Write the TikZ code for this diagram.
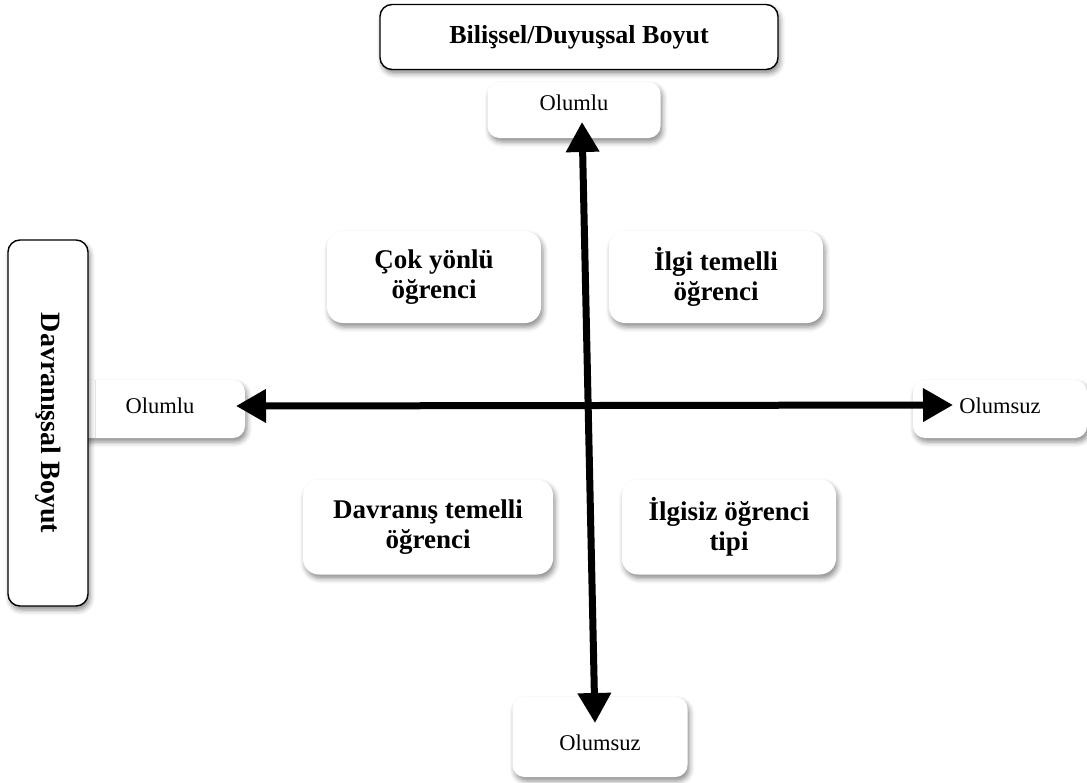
\documentclass[tikz,border=0pt]{standalone}
\usepackage{fontspec}
\setmainfont{Liberation Serif}
\usetikzlibrary{arrows.meta,shadows.blur}

\tikzset{
    soft/.style={blur shadow={shadow xshift=2pt, shadow yshift=-4pt, shadow blur radius=5pt, shadow opacity=45}},
    title/.style={draw, line width=1.4pt, rounded corners=12pt, fill=white, soft, inner sep=0pt},
    quad/.style={fill=white, rounded corners=16pt, soft, inner sep=0pt, align=center,
        minimum width=214pt, minimum height=92pt, font=\fontsize{27}{30}\selectfont\bfseries},
    pole/.style={fill=white, rounded corners=12pt, soft, inner sep=0pt, font=\fontsize{22.5}{24}\selectfont},
    axis/.style={line width=7pt, {Triangle[length=30pt,width=32pt]}-{Triangle[length=30pt,width=32pt]}}
}

\begin{document}
\begin{tikzpicture}[x=1pt, y=-1pt]
    \useasboundingbox (0,0) rectangle (1087,782);

    % poles of the two axes
    \node[pole, minimum width=173pt, minimum height=56pt, text height=12pt, text depth=12pt] at (574,110) (topPos) {Olumlu};
    \node[pole, minimum width=175pt, minimum height=80pt, text height=30pt, text depth=4pt] at (600,737) (botNeg) {Olumsuz};
    \node[pole, minimum width=170pt, minimum height=58pt, text height=12pt, text depth=4pt] at (160,409) (leftPos) {Olumlu};
    \node[pole, minimum width=174pt, minimum height=58pt, text height=12pt, text depth=4pt] at (1000,409) (rightNeg) {Olumsuz};

    % the four student types
    \node[quad] at (434,277) (cok) {Çok yönlü\\öğrenci};
    \node[quad] at (716,277) (ilgi) {İlgi temelli\\öğrenci};
    \node[quad, minimum width=250pt, minimum height=95pt] at (428,527) (davranis) {Davranış temelli\\öğrenci};
    \node[quad, minimum height=95pt] at (729,527) (ilgisiz) {İlgisiz öğrenci\\tipi};

    % axis titles
    \node[title, minimum width=398pt, minimum height=65pt, font=\fontsize{26}{30}\selectfont\bfseries] at (579,37) (cogn) {Bilişsel/Duyuşsal Boyut};
    \node[title, minimum width=366pt, minimum height=80pt, rotate=-90, font=\fontsize{28}{30}\selectfont\bfseries] at (48,423) (behav) {Davranışsal Boyut};

    \coordinate (vTop) at (582,122);
    \coordinate (vBot) at (595,723);
    \coordinate (hLeft) at (236,406);
    \coordinate (hRight) at (953,405);

    \draw[axis] (vBot) -- (vTop);
    \draw[axis] (hLeft) -- (hRight);
\end{tikzpicture}
\end{document}
